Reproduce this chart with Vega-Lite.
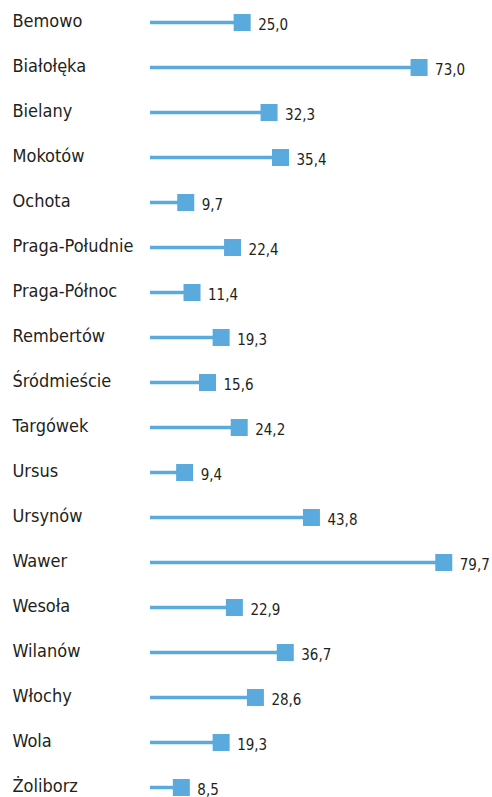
{
  "$schema": "https://vega.github.io/schema/vega-lite/v6.json",
  "width": 342,
  "height": 797,
  "autosize": {"type": "none"},
  "padding": {"left": 150, "top": 0, "right": 0, "bottom": 0},
  "background": "white",
  "config": {
    "view": {"stroke": null},
    "locale": {"number": {"decimal": ",", "thousands": " ", "grouping": [3], "currency": ["", " zł"]}}
  },
  "data": {
    "values": [
      {"district": "Bemowo", "value": 25.0},
      {"district": "Białołęka", "value": 73.0},
      {"district": "Bielany", "value": 32.3},
      {"district": "Mokotów", "value": 35.4},
      {"district": "Ochota", "value": 9.7},
      {"district": "Praga-Południe", "value": 22.4},
      {"district": "Praga-Północ", "value": 11.4},
      {"district": "Rembertów", "value": 19.3},
      {"district": "Śródmieście", "value": 15.6},
      {"district": "Targówek", "value": 24.2},
      {"district": "Ursus", "value": 9.4},
      {"district": "Ursynów", "value": 43.8},
      {"district": "Wawer", "value": 79.7},
      {"district": "Wesoła", "value": 22.9},
      {"district": "Wilanów", "value": 36.7},
      {"district": "Włochy", "value": 28.6},
      {"district": "Wola", "value": 19.3},
      {"district": "Żoliborz", "value": 8.5}
    ]
  },
  "encoding": {
    "y": {
      "field": "district",
      "type": "nominal",
      "sort": null,
      "scale": {"type": "point", "range": [22.5, 787.5], "padding": 0},
      "axis": {
        "title": null,
        "domain": false,
        "ticks": false,
        "labelAlign": "left",
        "labelPadding": 138,
        "labelFont": "DejaVu Sans Condensed",
        "labelFontSize": 18,
        "labelColor": "#231f20",
        "labelBaseline": "middle",
        "labelOffset": -1
      }
    },
    "x": {
      "field": "value",
      "type": "quantitative",
      "scale": {"domain": [0, 100], "range": [0, 368.6], "nice": false},
      "axis": null
    }
  },
  "layer": [
    {
      "mark": {"type": "rule", "strokeWidth": 3.5, "color": "#5aaade"},
      "encoding": {"x": {"datum": 0}, "x2": {"field": "value"}}
    },
    {
      "mark": {"type": "square", "size": 289, "filled": true, "opacity": 1, "color": "#5aaade"}
    },
    {
      "mark": {"type": "text", "align": "left", "baseline": "middle", "dx": 16, "dy": 2, "font": "DejaVu Sans Condensed", "fontSize": 15, "color": "#231f20"},
      "encoding": {"text": {"field": "value", "type": "quantitative", "format": ".1f"}}
    }
  ]
}
